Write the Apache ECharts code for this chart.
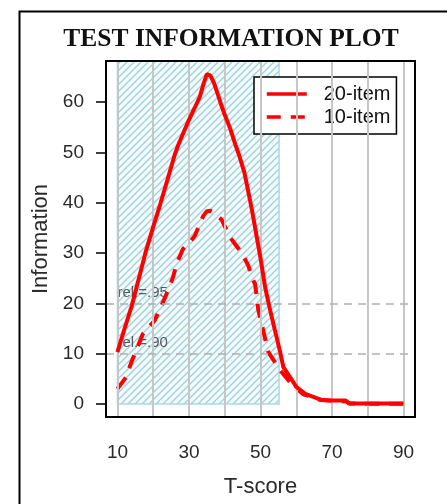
<!DOCTYPE html>
<html><head><meta charset="utf-8">
<script src="https://cdn.jsdelivr.net/npm/echarts@6/dist/echarts.min.js"></script>
<style>html,body{margin:0;padding:0;background:#fff}#c{width:447px;height:504px}</style>
</head><body><div id="c"></div>
<script>
// ---- data ----
const tScore20 = [10, 12, 14, 16, 18, 20, 22, 24, 26, 27, 28, 30, 32, 33, 34, 35, 36, 37, 38, 39, 40, 41.5, 43, 44, 45.5, 47.5, 50, 51.3, 52.7, 55.5, 56.4, 58.3, 60, 62.5, 64, 67, 70, 73.8, 74.7, 80, 85, 90];
const info20   = [10.3, 15, 19.5, 25, 30.5, 35.2, 39.8, 44.6, 49.5, 51.5, 53.2, 56.5, 59.5, 61, 63.5, 65.6, 65.3, 63.8, 61.7, 59.5, 57.5, 54.8, 51.5, 49.5, 46, 39, 29, 23.2, 18.6, 10.3, 7.3, 5.3, 3.4, 2, 1.6, 0.8, 0.7, 0.7, 0.1, 0.1, 0.1, 0.1];
const tScore10 = [10, 12.4, 14, 17.1, 20.4, 22, 24.1, 25.5, 26.5, 28.3, 30, 31.6, 34, 35, 36, 37, 39.1, 41.5, 44.7, 46.6, 47.6, 48.5, 49.4, 52.2, 55.5, 57.8, 60, 62, 64, 66, 70, 74, 75, 80, 90];
const info10   = [3, 5.3, 8.5, 13.9, 16.6, 19, 22.5, 25.1, 27.8, 30.8, 32, 33.4, 37.4, 38.3, 38.4, 38, 36.7, 33.1, 30.1, 27.5, 25.1, 23.8, 18.6, 10.3, 6.7, 4.7, 3.1, 1.9, 1.5, 0.9, 0.6, 0.5, 0.1, 0.05, 0.05];
const xTicks = [10, 20, 30, 40, 50, 60, 70, 80, 90];
const xLabels = [10, 30, 50, 70, 90];
const yTicks = [0, 10, 20, 30, 40, 50, 60];
const relValues = [20, 10];
const relLabels = ['rel.=.95', 'rel.=.90'];
const shadeX = [10, 55.2];
const xRange = [6.8, 93.2];
const yRange = [-2.6, 68.2];

// hatch pattern
const pc = document.createElement('canvas');
pc.width = 7; pc.height = 7;
const g = pc.getContext('2d');
g.fillStyle = '#f3fafb'; g.fillRect(0, 0, 7, 7);
g.strokeStyle = '#9ed1dc'; g.lineWidth = 1.3;
g.beginPath();
g.moveTo(-1, 8); g.lineTo(8, -1);
g.moveTo(-1, 1); g.lineTo(1, -1);
g.moveTo(6, 8); g.lineTo(8, 6);
g.stroke();

const chart = echarts.init(document.getElementById('c'), null, {renderer: 'canvas'});
const labelColor = '#2a2a2a';
chart.setOption({
  animation: false,
  backgroundColor: '#fff',
  title: {
    text: 'TEST INFORMATION PLOT', left: 226, top: 21, textAlign: 'center',
    textStyle: {fontFamily: 'Liberation Serif', fontWeight: 'bold', fontSize: 25.5, color: '#111'}
  },
  graphic: [{type: 'rect', left: 17, top: 9, shape: {width: 440, height: 500}, style: {fill: 'none', stroke: '#000', lineWidth: 2}, z: 100}],
  grid: {left: 106, top: 61, width: 309, height: 356, show: true, borderColor: '#000', borderWidth: 2, backgroundColor: 'transparent', z: 10},
  legend: {
    data: ['20-item', '10-item'], orient: 'vertical', left: 254, top: 77,
    backgroundColor: '#fff', borderColor: '#000', borderWidth: 1.5, borderRadius: 0,
    padding: [7, 6, 7, 11], itemGap: 3, itemWidth: 40, itemHeight: 20,
    itemStyle: {opacity: 0},
    lineStyle: {width: 3.5},
    textStyle: {fontFamily: 'Liberation Sans', fontSize: 20, color: '#111', padding: [0, 0, 0, 12]}
  },
  xAxis: {
    type: 'value', min: xRange[0], max: xRange[1],
    name: 'T-score', nameLocation: 'middle', nameGap: 59,
    nameTextStyle: {fontFamily: 'Liberation Sans', fontSize: 22, color: labelColor},
    axisLine: {show: false},
    axisTick: {show: true, customValues: xTicks, length: 12, lineStyle: {color: '#000', width: 1.5}},
    axisLabel: {customValues: xLabels, margin: 26, fontFamily: 'Liberation Sans', fontSize: 19, color: labelColor},
    splitLine: {show: false}
  },
  yAxis: {
    type: 'value', min: yRange[0], max: yRange[1],
    name: 'Information', nameLocation: 'middle', nameGap: 53,
    nameTextStyle: {fontFamily: 'Liberation Sans', fontSize: 22, color: labelColor},
    axisLine: {show: false},
    axisTick: {show: true, customValues: yTicks, length: 10, lineStyle: {color: '#000', width: 1.5}},
    axisLabel: {customValues: yTicks, margin: 22, fontFamily: 'Liberation Sans', fontSize: 19, color: labelColor},
    splitLine: {show: false}
  },
  series: [
    {
      name: 'bg', type: 'line', data: [], silent: true, z: 1,
      markArea: {
        silent: true,
        itemStyle: {color: {image: pc, repeat: 'repeat'}, borderColor: '#add8e6', borderWidth: 1.5},
        data: [[{xAxis: shadeX[0], yAxis: 0}, {xAxis: shadeX[1], yAxis: yRange[1]}]]
      },
      markLine: {
        silent: true, symbol: 'none', label: {show: false},
        lineStyle: {color: '#c6c6c6', width: 2, type: 'solid'},
        data: xTicks.map(v => ({xAxis: v})).concat(relValues.map(v => ({yAxis: v, lineStyle: {color: '#b0b0b0', width: 1.5, type: [8, 6]}})))
      }
    },
    {
      name: 'rel', type: 'scatter', symbolSize: 0, silent: true, z: 3,
      data: relValues.map((v, i) => ({value: [10, v], label: {formatter: relLabels[i]}})),
      label: {show: true, position: 'top', align: 'left', distance: 3, fontFamily: 'Liberation Sans', fontSize: 15, color: '#333'}
    },
    {
      name: '10-item', type: 'line', data: tScore10.map((x, i) => [x, info10[i]]),
      symbol: 'none', z: 4, color: '#ff0000',
      lineStyle: {color: '#ff0000', width: 4, type: [14, 10]}
    },
    {
      name: '20-item', type: 'line', data: tScore20.map((x, i) => [x, info20[i]]),
      symbol: 'none', z: 5, color: '#ff0000',
      lineStyle: {color: '#ff0000', width: 4}
    }
  ]
});
</script></body></html>
